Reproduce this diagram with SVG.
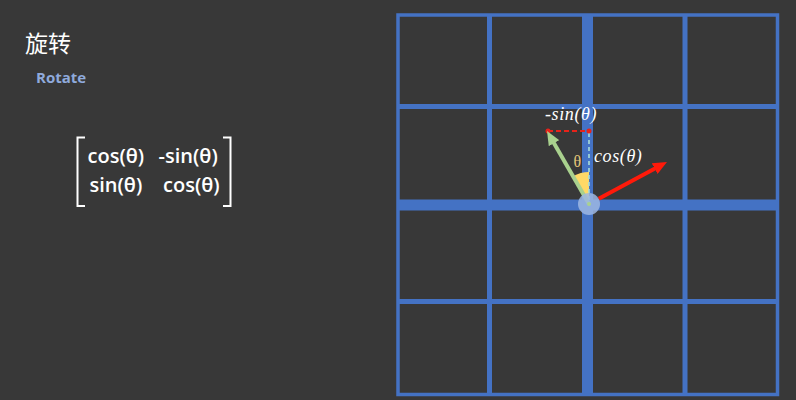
<svg xmlns="http://www.w3.org/2000/svg" width="796" height="400" viewBox="0 0 796 400">
<style>
.grid{stroke:#4472C4;fill:none}
.thin{stroke-width:5}
.thick{stroke-width:11}
.mtx{font-family:"Open Sans","Liberation Sans",sans-serif;font-size:20px;font-weight:600;fill:#FFFFFF}
.math{font-family:"Liberation Serif","DejaVu Serif",serif;font-style:italic;font-size:18px;letter-spacing:0.6px;fill:#FFFFFF}
</style>
<defs>
<marker id="ahG" markerUnits="userSpaceOnUse" markerWidth="14" markerHeight="12" refX="4" refY="6" orient="auto"><path d="M0,0 L14,6 L0,12 z" fill="#A9D18E"/></marker>
<marker id="ahR" markerUnits="userSpaceOnUse" markerWidth="14" markerHeight="12" refX="4" refY="6" orient="auto"><path d="M0,0 L14,6 L0,12 z" fill="#FF1A0A"/></marker>
</defs>
<rect x="0" y="0" width="796" height="400" fill="#383838"/>
<g id="title">
<text x="25" y="52" font-family="'Noto Sans CJK SC',sans-serif" font-size="23" fill="#FFFFFF">旋转</text>
<text x="36" y="82.5" font-family="'Open Sans','Liberation Sans',sans-serif" font-weight="bold" font-size="15" fill="#8FAADC">Rotate</text>
</g>
<g id="matrix">
<path d="M85,137.5 H77.5 V206 H85" fill="none" stroke="#FFFFFF" stroke-width="2"/>
<path d="M223,137.5 H230.5 V206 H223" fill="none" stroke="#FFFFFF" stroke-width="2"/>
<text class="mtx" x="87.5" y="162.5">cos(θ)</text>
<text class="mtx" x="158.5" y="162.5">-sin(θ)</text>
<text class="mtx" x="89.5" y="192">sin(θ)</text>
<text class="mtx" x="163" y="192">cos(θ)</text>
</g>
<g id="grid">
<rect class="grid" x="398" y="15" width="379.5" height="379.5" stroke-width="3.5"/>
<line class="grid thin" x1="489.5" y1="15" x2="489.5" y2="394.5"/>
<line class="grid thin" x1="685" y1="15" x2="685" y2="394.5"/>
<line class="grid thin" x1="398" y1="106.5" x2="777.5" y2="106.5"/>
<line class="grid thin" x1="398" y1="301.5" x2="777.5" y2="301.5"/>
<line class="grid thick" x1="587.5" y1="15" x2="587.5" y2="394.5"/>
<line class="grid thick" x1="398" y1="205" x2="777.5" y2="205"/>
</g>
<g id="angle">
<path d="M589,204 L573,176.3 A32,32 0 0 1 589,172 Z" fill="#FFD966"/>
<text x="573.5" y="167" font-family="'Liberation Serif',serif" font-size="16" fill="#E6C77A">θ</text>
</g>
<g id="connectors">
<line x1="589" y1="133" x2="589" y2="200" stroke="#A8DCD8" stroke-width="1.6" stroke-dasharray="4,3"/>
<line x1="548" y1="131" x2="589" y2="131" stroke="#E8231A" stroke-width="1.8" stroke-dasharray="5,3"/>
<circle cx="548" cy="131" r="2.5" fill="#E8231A"/>
<circle cx="589" cy="131" r="2.5" fill="#E8231A"/>
<line x1="589" y1="204" x2="552" y2="139.7" stroke="#A9D18E" stroke-width="4" marker-end="url(#ahG)"/>
<line x1="598.7" y1="198.8" x2="658.2" y2="166.7" stroke="#FF1A0A" stroke-width="4" marker-end="url(#ahR)"/>
</g>
<g id="origin">
<circle cx="589" cy="204" r="11" fill="#9DB7E3" fill-opacity="0.85"/>
<circle cx="589" cy="204" r="2" fill="#A9D18E"/>
</g>
<g id="labels">
<text class="math" x="545" y="120">-sin(θ)</text>
<text class="math" x="594" y="161.5">cos(θ)</text>
</g>
</svg>
